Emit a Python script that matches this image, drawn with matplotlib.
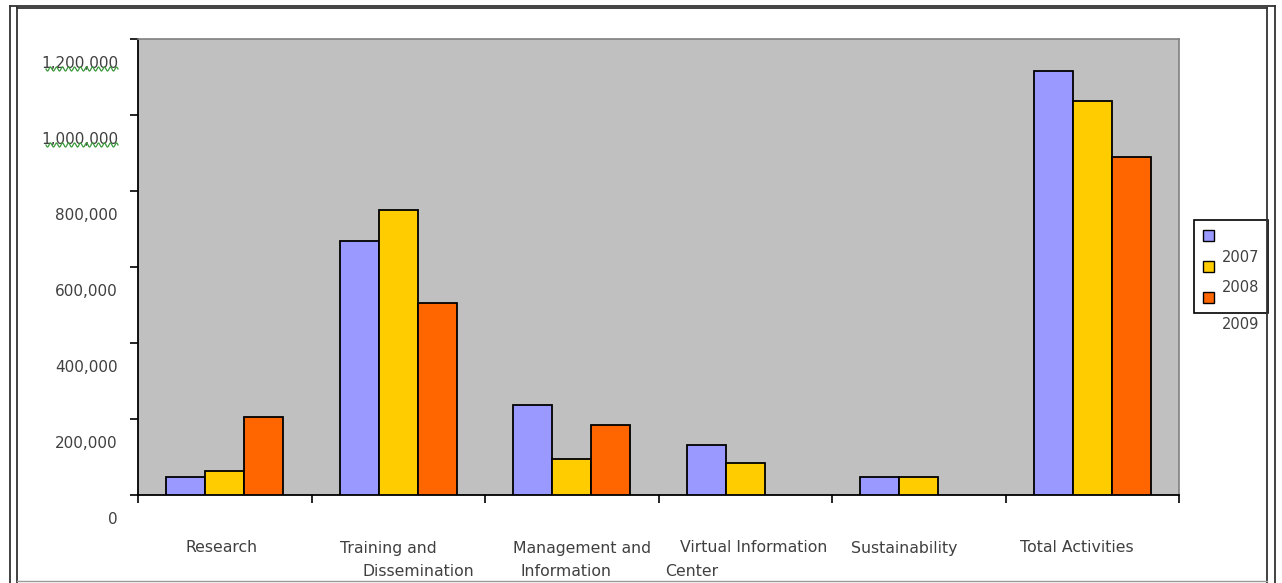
import matplotlib
matplotlib.use("Agg")
import matplotlib.pyplot as plt
from matplotlib.transforms import ScaledTranslation, blended_transform_factory
from matplotlib.patches import Rectangle
from matplotlib.lines import Line2D
import numpy as np

# ---------------- data ----------------
categories = ["Research", "Training and\nDissemination", "Management and\nInformation",
              "Virtual Information\nCenter", "Sustainability", "Total Activities"]
years = ["2007", "2008", "2009"]
values_2007 = [47000, 669000, 236000, 131000, 47000, 1115000]
values_2008 = [63000, 751000, 94000, 84000, 47000, 1037000]
values_2009 = [205000, 504000, 184000, 0, 0, 890000]
yticks = [0, 200000, 400000, 600000, 800000, 1000000, 1200000]
ytick_labels = ["0", "200,000", "400,000", "600,000", "800,000", "1,000,000", "1,200,000"]

colors = ["#9999FF", "#FFCC00", "#FF6600"]

W, H = 1282, 583
DPI = 100
fig = plt.figure(figsize=(W / DPI, H / DPI), dpi=DPI)
fig.patch.set_facecolor("white")

def fx(px):
    return px / W

def fy(py):
    return 1 - py / H

# outer frame (double lines)
frame_kw = dict(transform=fig.transFigure, color="#333333", lw=1.3)
fig.add_artist(Line2D([fx(10), fx(10)], [fy(6), fy(583)], **frame_kw))
fig.add_artist(Line2D([fx(17), fx(17)], [fy(7), fy(583)], **frame_kw))
fig.add_artist(Line2D([fx(10), fx(1275)], [fy(6), fy(6)], **frame_kw))
fig.add_artist(Line2D([fx(17), fx(1267)], [fy(8), fy(8)], **frame_kw))
fig.add_artist(Line2D([fx(1267), fx(1267)], [fy(8), fy(583)], **frame_kw))
fig.add_artist(Line2D([fx(1275), fx(1275)], [fy(6), fy(583)], **frame_kw))
fig.add_artist(Line2D([fx(17), fx(1267)], [fy(581), fy(581)], transform=fig.transFigure,
                      color="#999999", lw=1.0))

# axes
left, right, top, bottom = 138, 1179, 39, 495
ax = fig.add_axes([fx(left), fy(bottom), (right - left) / W, (bottom - top) / H])
ax.set_facecolor("#C0C0C0")

n = len(categories)
x = np.arange(n)
bw = 0.225
for i, (vals, c) in enumerate(zip([values_2007, values_2008, values_2009], colors)):
    v = np.array(vals, dtype=float)
    mask = v > 0
    ax.bar(x[mask] + (i - 1) * bw, v[mask], width=bw, color=c, edgecolor="black",
           linewidth=1.3, zorder=3)

ax.set_xlim(-0.5, n - 0.5)
ax.set_ylim(0, 1200000)

# spines
for s in ["top", "right"]:
    ax.spines[s].set_color("#808080")
    ax.spines[s].set_linewidth(1.2)
for s in ["left", "bottom"]:
    ax.spines[s].set_color("black")
    ax.spines[s].set_linewidth(1.3)

ax.set_yticks(yticks)
ax.set_yticklabels([])
ax.set_xticks(np.arange(n + 1) - 0.5)
ax.set_xticklabels([])
ax.tick_params(axis="both", direction="out", length=6, width=1.2, color="black")

txt_color = "#404040"
# y labels shifted down (as in reference)
ylab_tr = blended_transform_factory(ax.transAxes, ax.transData) + \
    ScaledTranslation(-20 / DPI, -24 / DPI, fig.dpi_scale_trans)
for v, lab in zip(yticks, ytick_labels):
    ax.text(0, v, lab, transform=ylab_tr, ha="right", va="center",
            fontsize=11, color=txt_color, family="DejaVu Sans")

# green spell-check squiggles under the two largest labels
for sy in [69, 145]:
    sx = np.linspace(46, 118, 200)
    syy = sy + 2.0 * np.sin((sx - 46) / 6.0 * 2 * np.pi)
    fig.add_artist(Line2D(fx(sx), fy(syy), transform=fig.transFigure,
                          color="#3c9a3c", lw=0.9))

# x labels: per-line pixel offsets (left edge relative to category centre)
line_offsets = [[-39], [-58, -36], [-59, -51], [-65, -80], [-68], [-72]]
xlab_base = blended_transform_factory(ax.transData, ax.transAxes)
for xi, (cat, offs) in enumerate(zip(categories, line_offsets)):
    lines = cat.split("\n")
    for li, (ln, off) in enumerate(zip(lines, offs)):
        tr = xlab_base + ScaledTranslation(off / DPI, -(53 + 24 * li) / DPI, fig.dpi_scale_trans)
        ax.text(xi, 0, ln, transform=tr, ha="left", va="center",
                fontsize=11.3, color=txt_color, family="DejaVu Sans")

# legend (drawn manually, text rows offset as in reference)
fig.add_artist(Rectangle((fx(1194), fy(313)), (1268 - 1194) / W, (313 - 220) / H,
                         transform=fig.transFigure, facecolor="white",
                         edgecolor="black", lw=1.2))
marker_y = [236, 267, 298]
label_y = [258, 287, 325]
for c, my in zip(colors, marker_y):
    fig.add_artist(Rectangle((fx(1203), fy(my + 5)), 11 / W, 11 / H,
                             transform=fig.transFigure, facecolor=c,
                             edgecolor="black", lw=1.0))
for yr, ly in zip(years, label_y):
    fig.text(fx(1222), fy(ly), yr, ha="left", va="center", fontsize=10.5,
             color=txt_color, family="DejaVu Sans")

fig.savefig("out.png", dpi=DPI)
